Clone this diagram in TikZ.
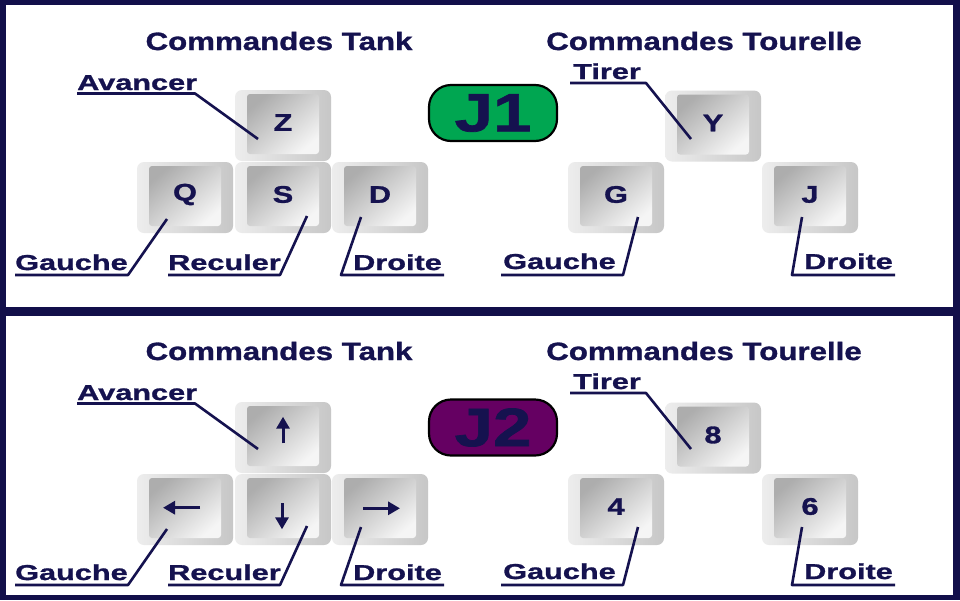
\documentclass[tikz,border=0pt]{standalone}
\usepackage{fontspec}
\usetikzlibrary{arrows.meta}
\newfontfamily\ttlfont[FakeStretch=1.25,FakeBold=1.2]{Liberation Sans Bold}
\newfontfamily\lblfont[FakeStretch=1.42,FakeBold=1.2]{Liberation Sans Bold}
\newfontfamily\keyfont[FakeStretch=1.28,FakeBold=1.3]{Liberation Sans Bold}
\definecolor{navy}{HTML}{15124F}
\definecolor{framec}{HTML}{120F4A}
\definecolor{jgreen}{HTML}{00A651}
\definecolor{jpurple}{HTML}{650062}
\newcommand\kbkey[4]{%
  \node[keyout] (#1) at (#2,#3) {};
  \node[keyface, yshift=1.5pt] (#1f) at (#2,#3) {};
  \node[keytxt, yshift=3pt] (#1t) at (#2,#3) {#4};
}
\begin{document}
\begin{tikzpicture}[x=1pt,y=-1pt,
  title/.style={font=\ttlfont\fontsize{25}{25}\selectfont, text=navy, anchor=base, inner sep=0},
  lab/.style={font=\lblfont\fontsize{21.6}{22}\selectfont, text=navy, anchor=base west, inner sep=0},
  keyout/.style={rounded corners=7pt, minimum width=96pt, minimum height=71pt, inner sep=0, left color=gray!14, right color=gray!44},
  keyface/.style={rounded corners=3pt, minimum width=72pt, minimum height=60pt, inner sep=0, top color=gray!64, bottom color=gray!8, shading angle=40},
  keytxt/.style={font=\keyfont\fontsize{24}{24}\selectfont, text=navy, inner sep=0},
  badge/.style={draw=black, line width=2.2pt, rounded corners=22pt, minimum width=128pt, minimum height=56pt, inner sep=0, font=\keyfont\fontsize{54}{54}\selectfont, text=navy},
  conn/.style={draw=navy, line width=2.6pt, line join=round},
  keyarrow/.style={draw=navy, line width=3pt, -{Triangle[length=12pt,width=13pt]}}]
\useasboundingbox (0,0) rectangle (960,600);
\fill[framec] (0,0) rectangle (960,600);
\fill[white] (6,5) rectangle (953,307);
\fill[white] (6,316) rectangle (953,595);

% ---------- Panel 1 ----------
\node[title] (tA1) at (279,50) {Commandes Tank};
\node[title] (tB1) at (704,50) {Commandes Tourelle};
\node[badge, fill=jgreen] (j1) at (493,113) {J1};

\kbkey{kz}{283}{125.5}{Z}
\kbkey{kq}{185}{197.5}{Q}
\kbkey{ks}{283}{197.5}{S}
\kbkey{kd}{380}{197.5}{D}
\kbkey{ky}{713}{126}{Y}
\kbkey{kg}{616}{197.5}{G}
\kbkey{kj}{810}{197.5}{J}

\node[lab] (av1) at (77,90) {Avancer};
\coordinate (av1a) at (77,93.5); \coordinate (av1b) at (195,93.5); \coordinate (av1k) at (258,139);
\draw[conn] (av1a) -- (av1b) -- (av1k);

\node[lab] (ga1) at (15,270) {Gauche};
\coordinate (ga1a) at (15,275); \coordinate (ga1b) at (128,275); \coordinate (ga1k) at (167,219);
\draw[conn] (ga1a) -- (ga1b) -- (ga1k);

\node[lab] (re1) at (168,270) {Reculer};
\coordinate (re1a) at (168,275); \coordinate (re1b) at (280,275); \coordinate (re1k) at (307,216);
\draw[conn] (re1a) -- (re1b) -- (re1k);

\node[lab] (dr1) at (353,270) {Droite};
\coordinate (dr1a) at (444,275); \coordinate (dr1b) at (341,275); \coordinate (dr1k) at (361,217);
\draw[conn] (dr1a) -- (dr1b) -- (dr1k);

\node[lab] (ti1) at (573,79) {Tirer};
\coordinate (ti1a) at (570,83); \coordinate (ti1b) at (646,83); \coordinate (ti1k) at (691,139);
\draw[conn] (ti1a) -- (ti1b) -- (ti1k);

\node[lab] (gt1) at (503,269) {Gauche};
\coordinate (gt1a) at (501,275); \coordinate (gt1b) at (623,275); \coordinate (gt1k) at (638,217);
\draw[conn] (gt1a) -- (gt1b) -- (gt1k);

\node[lab] (dt1) at (804,269) {Droite};
\coordinate (dt1a) at (895,275); \coordinate (dt1b) at (792,275); \coordinate (dt1k) at (802,217);
\draw[conn] (dt1a) -- (dt1b) -- (dt1k);

% ---------- Panel 2 ----------
\node[title] (tA2) at (279,360) {Commandes Tank};
\node[title] (tB2) at (704,360) {Commandes Tourelle};
\node[badge, fill=jpurple] (j2) at (493,427.5) {J2};

\kbkey{kup}{283}{437.5}{}
\kbkey{kle}{185}{509.5}{}
\kbkey{kdo}{283}{509.5}{}
\kbkey{kri}{380}{509.5}{}
\kbkey{k8}{713}{438}{8}
\kbkey{k4}{616}{509.5}{4}
\kbkey{k6}{810}{509.5}{6}

\draw[keyarrow] ([yshift=-5.8pt]kup.center) -- ([yshift=20.8pt]kup.center);
\draw[keyarrow] ([xshift=15pt,yshift=1.8pt]kle.center) -- ([xshift=-22pt,yshift=1.8pt]kle.center);
\draw[keyarrow] ([xshift=-1pt,yshift=6.2pt]kdo.center) -- ([xshift=-1pt,yshift=-19.8pt]kdo.center);
\draw[keyarrow] ([xshift=-16.7pt,yshift=1.2pt]kri.center) -- ([xshift=20pt,yshift=1.2pt]kri.center);

\node[lab] (av2) at (77,400) {Avancer};
\coordinate (av2a) at (77,403.5); \coordinate (av2b) at (195,403.5); \coordinate (av2k) at (258,449);
\draw[conn] (av2a) -- (av2b) -- (av2k);

\node[lab] (ga2) at (15,580) {Gauche};
\coordinate (ga2a) at (15,585); \coordinate (ga2b) at (128,585); \coordinate (ga2k) at (167,529);
\draw[conn] (ga2a) -- (ga2b) -- (ga2k);

\node[lab] (re2) at (168,580) {Reculer};
\coordinate (re2a) at (168,585); \coordinate (re2b) at (280,585); \coordinate (re2k) at (307,526);
\draw[conn] (re2a) -- (re2b) -- (re2k);

\node[lab] (dr2) at (353,580) {Droite};
\coordinate (dr2a) at (444,585); \coordinate (dr2b) at (341,585); \coordinate (dr2k) at (361,527);
\draw[conn] (dr2a) -- (dr2b) -- (dr2k);

\node[lab] (ti2) at (573,389) {Tirer};
\coordinate (ti2a) at (570,393); \coordinate (ti2b) at (646,393); \coordinate (ti2k) at (691,449);
\draw[conn] (ti2a) -- (ti2b) -- (ti2k);

\node[lab] (gt2) at (503,579) {Gauche};
\coordinate (gt2a) at (501,585); \coordinate (gt2b) at (623,585); \coordinate (gt2k) at (638,527);
\draw[conn] (gt2a) -- (gt2b) -- (gt2k);

\node[lab] (dt2) at (804,579) {Droite};
\coordinate (dt2a) at (895,585); \coordinate (dt2b) at (792,585); \coordinate (dt2k) at (802,527);
\draw[conn] (dt2a) -- (dt2b) -- (dt2k);
\end{tikzpicture}
\end{document}
